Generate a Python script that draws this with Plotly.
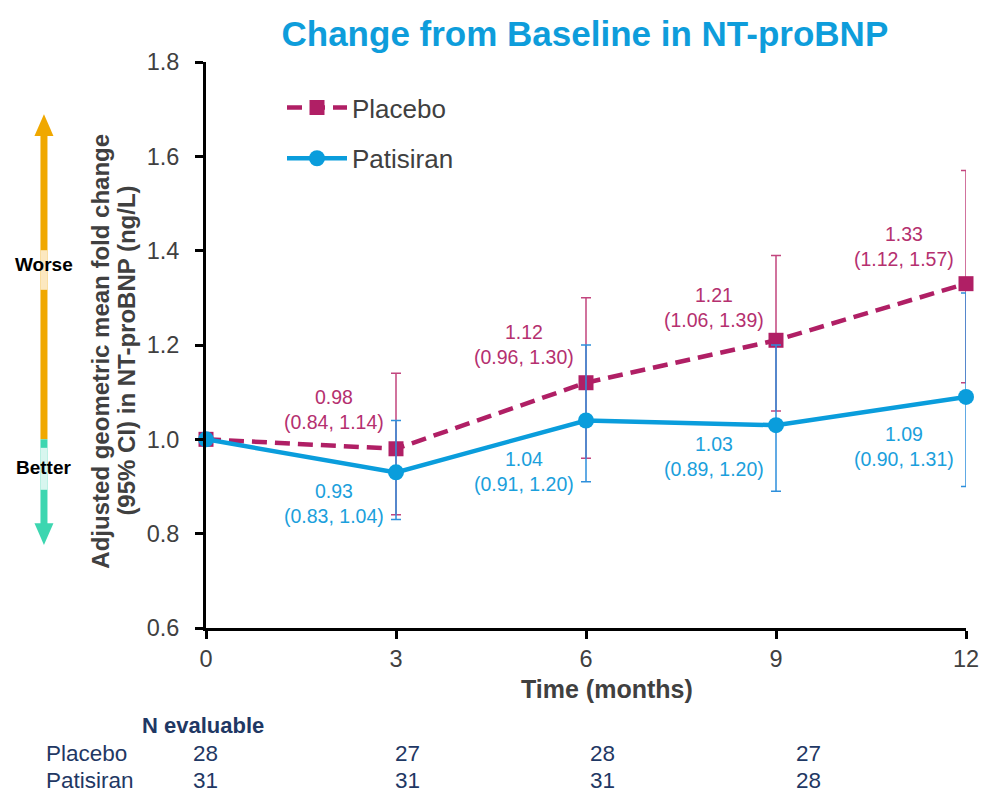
import plotly.graph_objects as go

# ---------------- data ----------------
months = [0, 3, 6, 9, 12]
placebo_mean = [1.00, 0.98, 1.12, 1.21, 1.33]
placebo_lo = [None, 0.84, 0.96, 1.06, 1.12]
placebo_hi = [None, 1.14, 1.30, 1.39, 1.57]
patisiran_mean = [1.00, 0.93, 1.04, 1.03, 1.09]
patisiran_lo = [None, 0.83, 0.91, 0.89, 0.90]
patisiran_hi = [None, 1.04, 1.20, 1.20, 1.31]

n_months = [0, 3, 6, 9]
n_placebo = [28, 27, 28, 27]
n_patisiran = [31, 31, 31, 28]

x_ticks = [0, 3, 6, 9, 12]
y_ticks = [0.6, 0.8, 1.0, 1.2, 1.4, 1.6, 1.8]

# label vertical positions (data units) for value annotations
placebo_label_y = [None, 1.064, 1.202, 1.280, 1.409]
patisiran_label_y = [None, 0.863, 0.931, 0.963, 0.984]

PLA = "#B01F65"
PAT = "#0A9DDC"
PLA_TXT = "#B5306F"
PAT_TXT = "#1BA0DC"
GRAY = "#404040"
NAVY = "#1F3864"
FONT = "Liberation Sans, Arial, sans-serif"
NARROW = "Liberation Sans Narrow, Liberation Sans, Arial, sans-serif"


def err(mean, lo, hi):
    plus = [0 if h is None else h - m for m, h in zip(mean, hi)]
    minus = [0 if l is None else m - l for m, l in zip(mean, lo)]
    return plus, minus


pla_plus, pla_minus = err(placebo_mean, placebo_lo, placebo_hi)
pat_plus, pat_minus = err(patisiran_mean, patisiran_lo, patisiran_hi)

fig = go.Figure()
fig.add_trace(go.Scatter(
    x=months, y=placebo_mean, name="Placebo", mode="lines+markers",
    line=dict(color=PLA, width=4.5, dash="15px,8px"),
    marker=dict(symbol="square", size=15, color=PLA),
    error_y=dict(type="data", array=pla_plus, arrayminus=pla_minus,
                 color="#C2457E", thickness=1.5, width=5, visible=True),
    cliponaxis=False, legendgroup="a"))
fig.add_trace(go.Scatter(
    x=months, y=patisiran_mean, name="Patisiran", mode="lines+markers",
    line=dict(color=PAT, width=4.5),
    marker=dict(symbol="circle", size=16, color=PAT),
    error_y=dict(type="data", array=pat_plus, arrayminus=pat_minus,
                 color="#2E8FDB", thickness=1.5, width=5, visible=True),
    cliponaxis=False, legendgroup="b"))

annotations = []
# value labels
for m, v, l, h, ly in zip(months, placebo_mean, placebo_lo, placebo_hi, placebo_label_y):
    if l is None:
        continue
    annotations.append(dict(x=m - 0.98, y=ly, xref="x", yref="y", showarrow=False,
                            xanchor="center", yanchor="middle",
                            text=f"{v:.2f}<br>({l:.2f}, {h:.2f})", align="center",
                            font=dict(size=19.5, color=PLA_TXT, family=FONT)))
for m, v, l, h, ly in zip(months, patisiran_mean, patisiran_lo, patisiran_hi, patisiran_label_y):
    if l is None:
        continue
    annotations.append(dict(x=m - 0.98, y=ly, xref="x", yref="y", showarrow=False,
                            xanchor="center", yanchor="middle",
                            text=f"{v:.2f}<br>({l:.2f}, {h:.2f})", align="center",
                            font=dict(size=19.5, color=PAT_TXT, family=FONT)))

# axis titles
annotations.append(dict(x=0.5276, y=-0.108, xref="paper", yref="paper", showarrow=False,
                        xanchor="center", yanchor="middle",
                        text="<b>Time (months)</b>", font=dict(size=25, color=GRAY, family=FONT)))
for tx, line in [(-0.1382, "Adjusted geometric mean fold change"),
                 (-0.104, "(95% CI) in NT-proBNP (ng/L)")]:
    annotations.append(dict(x=tx, y=0.49, xref="paper", yref="paper", showarrow=False,
                            xanchor="center", yanchor="middle",
                            textangle=-90, text=f"<b>{line}</b>",
                            font=dict(size=24, color=GRAY, family=FONT)))

# N evaluable table
col_x = [-0.0197, 0.246, 0.5026, 0.7737]
annotations.append(dict(x=-0.0875, y=-0.173, xref="paper", yref="paper", showarrow=False,
                        xanchor="left", yanchor="middle", text="<b>N evaluable</b>",
                        font=dict(size=22, color=NAVY, family=NARROW)))
for row_name, row_vals, ry in [("Placebo", n_placebo, -0.2226), ("Patisiran", n_patisiran, -0.2703)]:
    annotations.append(dict(x=-0.2132, y=ry, xref="paper", yref="paper", showarrow=False,
                            xanchor="left", yanchor="middle", text=row_name,
                            font=dict(size=22.5, color=NAVY, family=NARROW)))
    for cx, val in zip(col_x, row_vals):
        annotations.append(dict(x=cx, y=ry, xref="paper", yref="paper", showarrow=False,
                                xanchor="left", yanchor="middle", text=str(val),
                                font=dict(size=22.5, color=NAVY, family=NARROW)))

# Worse / Better arrow
AX = -0.2132
ORANGE = "#F0A800"
TEAL = "#3DD6B0"
hw = 0.0125
shapes = [
    dict(type="line", xref="paper", yref="y", x0=AX, x1=AX, y0=1.0, y1=1.650,
         line=dict(color=ORANGE, width=7)),
    dict(type="line", xref="paper", yref="y", x0=AX, x1=AX, y0=0.815, y1=1.0,
         line=dict(color=TEAL, width=7)),
    dict(type="line", xref="paper", yref="y", x0=AX, x1=AX, y0=1.317, y1=1.401,
         line=dict(color="#FCE8C0", width=7)),
    dict(type="line", xref="paper", yref="y", x0=AX, x1=AX, y0=0.893, y1=0.982,
         line=dict(color="#D8F6EF", width=7)),
    dict(type="path", xref="paper", yref="y",
         path=f"M {AX - hw} 1.643 L {AX} 1.689 L {AX + hw} 1.643 Z",
         fillcolor=ORANGE, line=dict(width=0)),
    dict(type="path", xref="paper", yref="y",
         path=f"M {AX - hw} 0.822 L {AX} 0.776 L {AX + hw} 0.822 Z",
         fillcolor=TEAL, line=dict(width=0)),
]
annotations.append(dict(x=AX, y=1.370, xref="paper", yref="y", showarrow=False,
                        xanchor="center", yanchor="middle",
                        text="<b>Worse</b>", font=dict(size=19, color="black", family=FONT)))
annotations.append(dict(x=AX, y=0.941, xref="paper", yref="y", showarrow=False,
                        xanchor="center", yanchor="middle",
                        text="<b>Better</b>", font=dict(size=19, color="black", family=FONT)))

fig.update_layout(
    width=993, height=801,
    margin=dict(l=206, r=27, t=62, b=173),
    plot_bgcolor="white", paper_bgcolor="white",
    font=dict(family=FONT, color=GRAY),
    title=dict(text="<b>Change from Baseline in NT-proBNP</b>", x=0.589, xanchor="center",
               y=0.958, yanchor="middle", font=dict(size=35, color="#0E9DDB", family=FONT)),
    xaxis=dict(range=[0, 12], tickvals=x_ticks, ticks="outside", ticklen=8, tickwidth=3,
               tickcolor="black", showline=True, linecolor="black", linewidth=3,
               showgrid=False, zeroline=False, tickfont=dict(size=23.5, color=GRAY)),
    yaxis=dict(range=[0.6, 1.8], tickvals=y_ticks, tickformat=".1f", ticks="outside",
               ticklen=8, tickwidth=3, tickcolor="black", showline=True, linecolor="black",
               linewidth=3, showgrid=False, zeroline=False, ticklabelstandoff=11,
               tickfont=dict(size=23.5, color=GRAY)),
    legend=dict(x=0.1, y=0.961, xanchor="left", yanchor="top", bgcolor="rgba(0,0,0,0)",
                font=dict(size=26, color=GRAY, family=FONT), tracegroupgap=14, itemwidth=60),
    showlegend=True,
    annotations=annotations,
    shapes=shapes,
)

fig.write_html("out.html", config={"displayModeBar": False},
               post_script="document.body.style.margin='0';")
